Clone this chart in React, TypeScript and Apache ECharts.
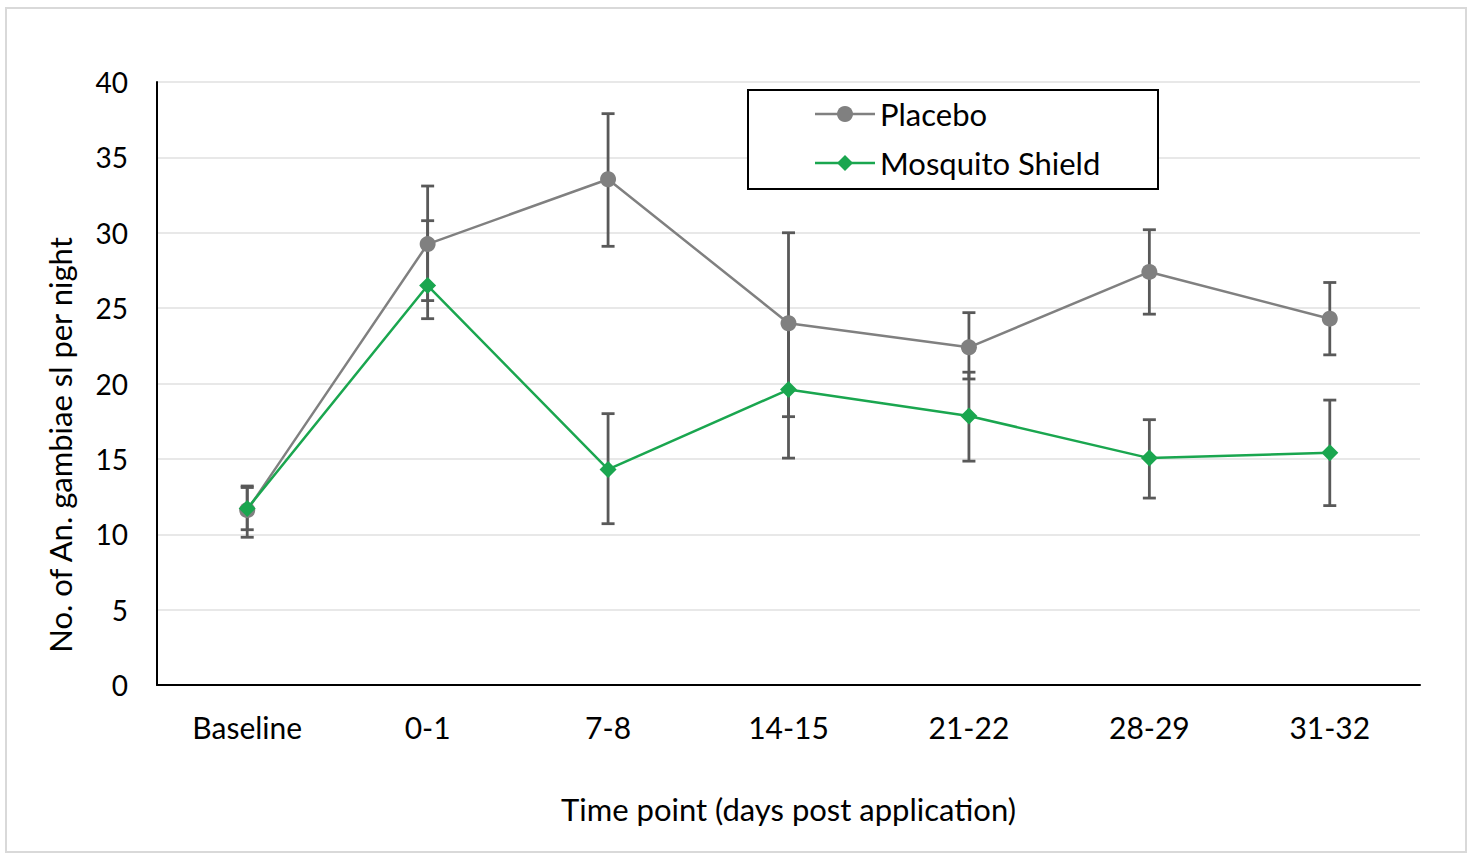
import React, { useEffect, useRef } from "react";
import * as echarts from "echarts";

const categories = ["Baseline", "0-1", "7-8", "14-15", "21-22", "28-29", "31-32"];
const placeboMean = [11.6, 29.25, 33.55, 24.0, 22.4, 27.4, 24.3];
const placeboUpper = [13.2, 33.1, 37.9, 30.0, 24.7, 30.2, 26.7];
const placeboLower = [9.8, 25.5, 29.1, 17.8, 20.3, 24.6, 21.9];
const shieldMean = [11.7, 26.5, 14.3, 19.6, 17.85, 15.05, 15.4];
const shieldUpper = [13.1, 30.8, 18.0, 24.2, 20.75, 17.6, 18.9];
const shieldLower = [10.3, 24.3, 10.7, 15.05, 14.85, 12.4, 11.9];
const yTicks = [0, 5, 10, 15, 20, 25, 30, 35, 40];

const FONT = "Lato";

function errorSeries(name: string, upper: number[], lower: number[]) {
  const data = categories.map((_, i) => [i, lower[i], upper[i]]);
  return {
    type: "custom",
    name,
    z: 1,
    silent: true,
    data,
    encode: { x: 0, y: [1, 2] },
    renderItem: (params: any, api: any) => {
      const x = api.value(0);
      const lo = api.coord([x, api.value(1)]);
      const hi = api.coord([x, api.value(2)]);
      const hw = 6.5;
      const style = { stroke: "#595959", lineWidth: 2.8 };
      return {
        type: "group",
        children: [
          { type: "line", shape: { x1: lo[0], y1: lo[1], x2: hi[0], y2: hi[1] }, style },
          { type: "line", shape: { x1: hi[0] - hw, y1: hi[1], x2: hi[0] + hw, y2: hi[1] }, style },
          { type: "line", shape: { x1: lo[0] - hw, y1: lo[1], x2: lo[0] + hw, y2: lo[1] }, style },
        ],
      };
    },
  };
}

export default function App() {
  const ref = useRef<HTMLDivElement>(null);
  useEffect(() => {
    if (!ref.current) return;
    const chart = echarts.init(ref.current, undefined, { renderer: "svg" });
    chart.setOption({
      animation: false,
      backgroundColor: "#ffffff",
      textStyle: { fontFamily: FONT },
      grid: { left: 157, right: 54, top: 82, bottom: 174 },
      xAxis: {
        type: "category",
        data: categories,
        boundaryGap: true,
        axisLine: { lineStyle: { color: "#000", width: 2 } },
        axisTick: { show: false },
        axisLabel: { color: "#000", fontSize: 30, fontFamily: FONT, margin: 27 },
        name: "Time point (days post application)",
        nameLocation: "middle",
        nameGap: 108,
        nameTextStyle: { color: "#000", fontSize: 31, fontFamily: FONT },
      },
      yAxis: {
        type: "value",
        min: yTicks[0],
        max: yTicks[yTicks.length - 1],
        interval: 5,
        axisLine: { show: true, lineStyle: { color: "#000", width: 2 } },
        axisTick: { show: false },
        splitLine: { lineStyle: { color: "#e8e8e8", width: 2 } },
        axisLabel: { color: "#000", fontSize: 28, fontFamily: FONT, margin: 29 },
      },
      legend: { show: false },
      graphic: [
        {
          type: "rect",
          shape: { x: 6, y: 8, width: 1460, height: 844 },
          style: { fill: "none", stroke: "#d9d9d9", lineWidth: 2 },
          z: -1,
          silent: true,
        },
        {
          type: "text",
          x: 60,
          y: 445,
          rotation: Math.PI / 2,
          style: {
            text: "No. of An. gambiae sl per night",
            fontSize: 31,
            fontFamily: FONT,
            fill: "#000",
            align: "center",
            verticalAlign: "middle",
          },
        },
        {
          type: "rect",
          shape: { x: 748, y: 90, width: 410, height: 99 },
          style: { fill: "#fff", stroke: "#000", lineWidth: 2 },
          z: 10,
        },
        {
          type: "line",
          shape: { x1: 815, y1: 114, x2: 875, y2: 114 },
          style: { stroke: "#808080", lineWidth: 2.5 },
          z: 11,
        },
        {
          type: "circle",
          shape: { cx: 845, cy: 114, r: 8 },
          style: { fill: "#808080" },
          z: 11,
        },
        {
          type: "text",
          x: 880,
          y: 114,
          style: { text: "Placebo", fontSize: 31, fontFamily: FONT, fill: "#000", verticalAlign: "middle" },
          z: 11,
        },
        {
          type: "line",
          shape: { x1: 815, y1: 163, x2: 875, y2: 163 },
          style: { stroke: "#1aa64f", lineWidth: 2.5 },
          z: 11,
        },
        {
          type: "polygon",
          shape: { points: [[845, 155], [853, 163], [845, 171], [837, 163]] },
          style: { fill: "#1aa64f" },
          z: 11,
        },
        {
          type: "text",
          x: 880,
          y: 163,
          style: { text: "Mosquito Shield", fontSize: 31, fontFamily: FONT, fill: "#000", verticalAlign: "middle" },
          z: 11,
        },
      ],
      series: [
        errorSeries("Placebo error", placeboUpper, placeboLower),
        errorSeries("Shield error", shieldUpper, shieldLower),
        {
          type: "line",
          name: "Placebo",
          data: placeboMean,
          z: 3,
          symbol: "circle",
          symbolSize: 16,
          lineStyle: { color: "#808080", width: 2.5 },
          itemStyle: { color: "#808080" },
        },
        {
          type: "line",
          name: "Mosquito Shield",
          data: shieldMean,
          z: 4,
          symbol: "diamond",
          symbolSize: 17,
          lineStyle: { color: "#1aa64f", width: 2.5 },
          itemStyle: { color: "#1aa64f" },
        },
      ],
    });
    return () => chart.dispose();
  }, []);
  return (
    <div
      ref={ref}
      style={{ position: "absolute", left: 0, top: 0, width: 1474, height: 859 }}
    />
  );
}
